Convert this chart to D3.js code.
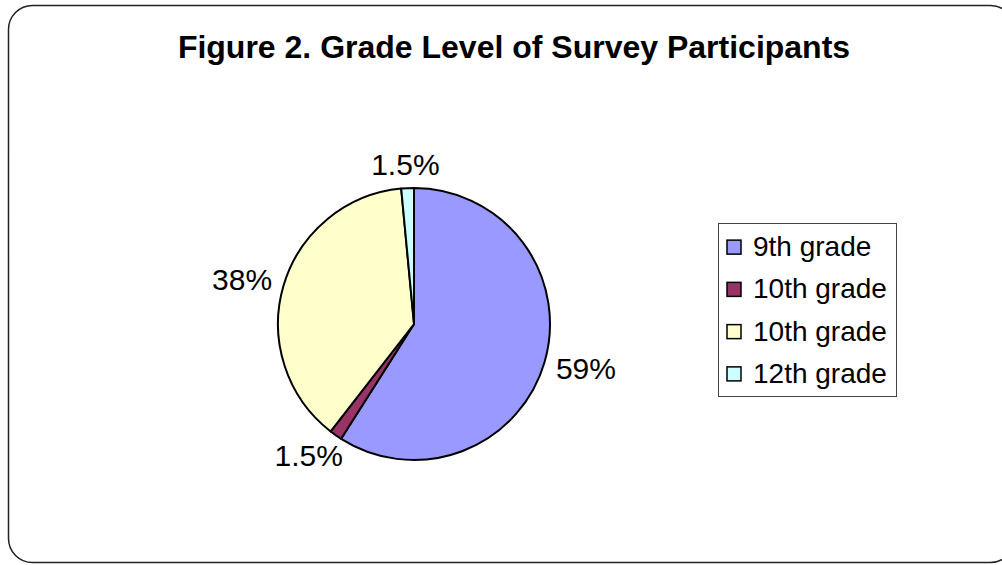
<!DOCTYPE html>
<html>
<head>
<meta charset="utf-8">
<script src="https://cdn.jsdelivr.net/npm/d3@7/dist/d3.min.js"></script>
<style>
  html, body { margin: 0; padding: 0; background: #fff; }
  svg { display: block; font-family: "Liberation Sans", Arial, sans-serif; }
</style>
</head>
<body>
<div id="chart"></div>
<script>
var categories = ["9th grade", "10th grade", "10th grade", "12th grade"];
var values = [59, 1.5, 38, 1.5];
var valueLabels = ["59%", "1.5%", "38%", "1.5%"];
var colors = ["#9999FF", "#993366", "#FFFFCC", "#CCFFFF"];
var title = "Figure 2. Grade Level of Survey Participants";

(function() {
    var width = 1002, height = 565;

    var svg = d3.select("#chart").append("svg")
        .attr("width", width)
        .attr("height", height);

    // outer rounded frame
    svg.append("rect")
        .attr("x", 8.5)
        .attr("y", 5.5)
        .attr("width", 1006)
        .attr("height", 557)
        .attr("rx", 24)
        .attr("ry", 24)
        .attr("fill", "none")
        .attr("stroke", "#222")
        .attr("stroke-width", 1.5);

    svg.append("text")
        .attr("x", 514)
        .attr("y", 58)
        .attr("text-anchor", "middle")
        .style("font-size", "32px")
        .style("font-weight", "bold")
        .text(title);

    var cx = 414, cy = 324, r = 136;

    var pie = d3.pie().sort(null).value(function(d) { return d; });
    var arcs = pie(values);

    var arc = d3.arc().innerRadius(0).outerRadius(r);

    var g = svg.append("g").attr("transform", "translate(" + cx + "," + cy + ")");

    g.selectAll(".slice")
        .data(arcs)
        .enter().append("path")
            .attr("class", "slice")
            .attr("d", arc)
            .attr("fill", function(d, i) { return colors[i]; })
            .attr("stroke", "#000")
            .attr("stroke-width", 2)
            .attr("stroke-linejoin", "round");

    // data labels placed outside the pie
    var fontSize = 30, gap = 13;
    g.selectAll(".valueLabel")
        .data(arcs)
        .enter().append("text")
            .attr("class", "valueLabel")
            .attr("text-anchor", "middle")
            .style("font-size", fontSize + "px")
            .each(function(d, i) {
                var a = (d.startAngle + d.endAngle) / 2;
                var s = Math.sin(a), c = -Math.cos(a);
                var el = d3.select(this).text(valueLabels[i]);
                var w = this.getComputedTextLength();
                var hh = fontSize * 0.36;
                var x = (r + gap) * s + (w / 2) * s;
                var y = (r + gap) * c + hh * c;
                el.attr("x", x).attr("y", y + hh);
            });

    // legend
    var lx = 718, ly = 223, lw = 178, lh = 173;
    var legend = svg.append("g");
    legend.append("rect")
        .attr("x", lx + 0.5)
        .attr("y", ly + 0.5)
        .attr("width", lw)
        .attr("height", lh)
        .attr("fill", "#fff")
        .attr("stroke", "#444")
        .attr("stroke-width", 1);

    var ry = d3.scaleBand()
        .domain(d3.range(categories.length))
        .range([ly + 3, ly + lh - 1]);

    var item = legend.selectAll(".item")
        .data(categories)
        .enter().append("g")
            .attr("class", "item")
            .attr("transform", function(d, i) {
                return "translate(0," + (ry(i) + ry.bandwidth() / 2) + ")";
            });

    item.append("rect")
        .attr("x", 727)
        .attr("y", -7)
        .attr("width", 14)
        .attr("height", 14)
        .attr("fill", function(d, i) { return colors[i]; })
        .attr("stroke", "#000")
        .attr("stroke-width", 1.5);

    item.append("text")
        .attr("x", 753)
        .attr("y", 9)
        .style("font-size", "28px")
        .text(function(d) { return d; });
})();
</script>
</body>
</html>
